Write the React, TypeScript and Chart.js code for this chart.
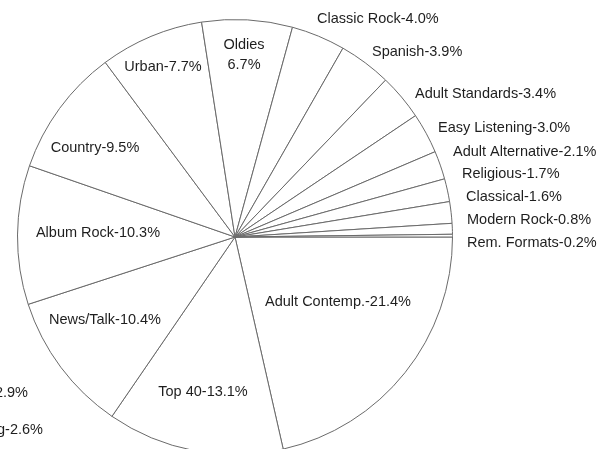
import React, { useEffect, useRef } from "react";
import { Chart, registerables } from "chart.js";

Chart.register(...registerables);

const formats = [
  "Adult Contemp.",
  "Top 40",
  "News/Talk",
  "Album Rock",
  "Country",
  "Urban",
  "Oldies",
  "Classic Rock",
  "Spanish",
  "Adult Standards",
  "Easy Listening",
  "Adult Alternative",
  "Religious",
  "Classical",
  "Modern Rock",
  "Rem. Formats",
];
const shares = [21.4, 13.1, 10.4, 10.3, 9.5, 7.7, 6.7, 4.0, 3.9, 3.4, 3.0, 2.1, 1.7, 1.6, 0.8, 0.2];

// label text anchors (x, y, alignment)
const labelSpots: [number, number, CanvasTextAlign][] = [
  [338, 302, "center"],
  [203, 392, "center"],
  [105, 320, "center"],
  [98, 233, "center"],
  [95, 148, "center"],
  [163, 67, "center"],
  [244, 55, "center"],
  [317, 19, "left"],
  [372, 52, "left"],
  [415, 94, "left"],
  [438, 128, "left"],
  [453, 152, "left"],
  [462, 174, "left"],
  [466, 197, "left"],
  [467, 220, "left"],
  [467, 243, "left"],
];

const strayTexts: [string, number, number][] = [
  ["2.9%", 28, 393],
  ["g-2.6%", 43, 430],
];

const labelPlugin = {
  id: "formatLabels",
  afterDraw(chart: any) {
    const ctx = chart.ctx;
    ctx.save();
    ctx.fillStyle = "#1e1e1e";
    ctx.font = '14.5px "Liberation Sans", Arial, sans-serif';
    ctx.textBaseline = "middle";
    formats.forEach((name, i) => {
      const [x, y, align] = labelSpots[i];
      ctx.textAlign = align;
      const pct = shares[i].toFixed(1) + "%";
      if (name === "Oldies") {
        ctx.fillText(name, x, y - 10);
        ctx.fillText(pct, x, y + 10);
      } else {
        ctx.fillText(name + "-" + pct, x, y);
      }
    });
    ctx.textAlign = "right";
    strayTexts.forEach(([t, x, y]) => ctx.fillText(t, x, y));
    ctx.restore();
  },
};

export default function App() {
  const ref = useRef<HTMLCanvasElement>(null);
  useEffect(() => {
    if (!ref.current) return;
    const chart = new Chart(ref.current, {
      type: "pie",
      data: {
        labels: formats,
        datasets: [
          {
            data: shares,
            backgroundColor: "#ffffff",
            borderColor: "#6a6a6a",
            borderWidth: 1,
          },
        ],
      },
      options: {
        responsive: false,
        animation: false,
        rotation: 90,
        layout: { padding: { left: 17, right: 150, top: 19, bottom: 5 } },
        plugins: {
          legend: { display: false },
          tooltip: { enabled: false },
        },
      },
      plugins: [labelPlugin],
    });
    return () => chart.destroy();
  }, []);
  return (
    <div
      style={{
        position: "fixed",
        left: 0,
        top: 0,
        width: 603,
        height: 449,
        overflow: "hidden",
        background: "#fff",
      }}
    >
      <canvas ref={ref} width={603} height={460} style={{ display: "block" }} />
    </div>
  );
}
